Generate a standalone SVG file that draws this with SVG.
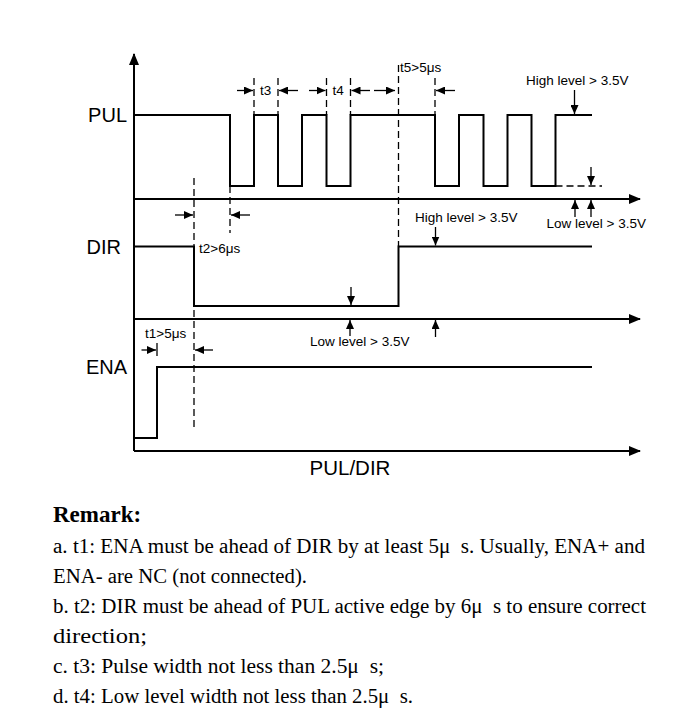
<svg xmlns="http://www.w3.org/2000/svg" width="692" height="723" viewBox="0 0 692 723">
<style>
.sig{fill:none;stroke:#000;stroke-width:2;stroke-linejoin:miter}
.ax{fill:none;stroke:#000;stroke-width:2}
.dash{fill:none;stroke:#000;stroke-width:1.3;stroke-dasharray:7,4}
.ar{fill:none;stroke:#000;stroke-width:1.3}
.lbl{font-family:"Liberation Sans",Arial,sans-serif;font-size:20px;fill:#000}
.sm{font-family:"Liberation Sans",Arial,sans-serif;font-size:13.5px;fill:#000}
.rm{font-family:"Liberation Serif","Times New Roman",serif;font-size:20px;fill:#000}
.rmb{font-family:"Liberation Serif","Times New Roman",serif;font-size:23px;font-weight:bold;fill:#000}
</style>
<defs>
<marker id="ah" markerUnits="userSpaceOnUse" markerWidth="9" markerHeight="8" refX="9" refY="4" orient="auto">
<path d="M0,0 L9,4 L0,8 z" fill="#000"/>
</marker>
<marker id="axh" markerUnits="userSpaceOnUse" markerWidth="12" markerHeight="10" refX="11" refY="5" orient="auto">
<path d="M0,0 L12,5 L0,10 z" fill="#000"/>
</marker>
</defs>
<rect width="692" height="723" fill="#fff"/>

<g id="axes">
<path class="ax" d="M134,451 V54" marker-end="url(#axh)"/>
<path class="ax" d="M134,199 H640" marker-end="url(#axh)"/>
<path class="ax" d="M134,319 H640" marker-end="url(#axh)"/>
<path class="ax" d="M134,451 H640" marker-end="url(#axh)"/>
</g>

<g id="PUL">
<text class="lbl" x="127" y="122" text-anchor="end">PUL</text>
<path class="sig" d="M134,115 H230 V186 H254 V115 H278 V186 H302 V115 H326.5 V186 H350.5 V115 H435 V186 H459 V115 H483.5 V186 H507.5 V115 H531.5 V186 H555.5 V115 H592"/>
<path class="dash" d="M555.5,186 H602"/>
</g>

<g id="DIR">
<text class="lbl" x="121" y="253.5" text-anchor="end">DIR</text>
<path class="sig" d="M134,246.5 H194 V306 H398.5 V246.5 H592"/>
</g>

<g id="ENA">
<text class="lbl" x="127" y="374" text-anchor="end">ENA</text>
<path class="sig" d="M134,438 H157 V367 H592"/>
</g>

<g id="axis-label">
<text class="lbl" x="350" y="475" text-anchor="middle" style="font-size:20.5px">PUL/DIR</text>
</g>

<g id="guides">
<path class="dash" d="M194,178 V427"/>
<path class="dash" d="M230,186 V233"/>
<path class="dash" d="M254,78 V115 M278,78 V115 M326.5,78 V115 M350.5,78 V115 M435,78 V115"/>
<path class="dash" d="M398.5,65 V246"/>
<path class="ar" d="M157,343 V356"/>
</g>

<g id="connectors">
<path class="ar" d="M237,90.5 H253" marker-end="url(#ah)"/>
<path class="ar" d="M298,90.5 H279" marker-end="url(#ah)"/>
<path class="ar" d="M309,90.5 H325.5" marker-end="url(#ah)"/>
<path class="ar" d="M370,90.5 H351.5" marker-end="url(#ah)"/>
<path class="ar" d="M374,90.5 H395" marker-end="url(#ah)"/>
<path class="ar" d="M455,90.5 H436" marker-end="url(#ah)"/>
<path class="ar" d="M574.5,90 V114" marker-end="url(#ah)"/>
<path class="ar" d="M591,167 V185" marker-end="url(#ah)"/>
<path class="ar" d="M575,217 V200" marker-end="url(#ah)"/>
<path class="ar" d="M591,217 V200" marker-end="url(#ah)"/>
<path class="ar" d="M175,215 H193" marker-end="url(#ah)"/>
<path class="ar" d="M250,215 H231" marker-end="url(#ah)"/>
<path class="ar" d="M435.5,227 V245.5" marker-end="url(#ah)"/>
<path class="ar" d="M351,287 V305" marker-end="url(#ah)"/>
<path class="ar" d="M350,336 V320" marker-end="url(#ah)"/>
<path class="ar" d="M435.5,337 V320" marker-end="url(#ah)"/>
<path class="ar" d="M141.5,350 H156" marker-end="url(#ah)"/>
<path class="ar" d="M213,350 H195" marker-end="url(#ah)"/>
</g>

<g id="timing-labels">
<text class="sm" x="260" y="95">t3</text>
<text class="sm" x="332.5" y="95">t4</text>
<text class="sm" x="400" y="72">t5&gt;5μs</text>
<text class="sm" x="526" y="85">High level &gt; 3.5V</text>
<text class="sm" x="415" y="222">High level &gt; 3.5V</text>
<text class="sm" x="546.5" y="228">Low level &gt; 3.5V</text>
<text class="sm" x="199" y="253">t2&gt;6μs</text>
<text class="sm" x="145" y="338">t1&gt;5μs</text>
<text class="sm" x="310" y="346">Low level &gt; 3.5V</text>
</g>

<g id="remark">
<text class="rmb" x="53" y="522">Remark:</text>
<text class="rm" x="53" y="553" textLength="592" lengthAdjust="spacingAndGlyphs">a. t1: ENA must be ahead of DIR by at least 5μ&#160; s. Usually, ENA+ and</text>
<text class="rm" x="53" y="583" textLength="254" lengthAdjust="spacingAndGlyphs">ENA- are NC (not connected).</text>
<text class="rm" x="53" y="613" textLength="593" lengthAdjust="spacingAndGlyphs">b. t2: DIR must be ahead of PUL active edge by 6μ&#160; s to ensure correct</text>
<text class="rm" x="53" y="643" textLength="94" lengthAdjust="spacingAndGlyphs">direction;</text>
<text class="rm" x="53" y="673" textLength="331" lengthAdjust="spacingAndGlyphs">c. t3: Pulse width not less than 2.5μ&#160; s;</text>
<text class="rm" x="53" y="703" textLength="360" lengthAdjust="spacingAndGlyphs">d. t4: Low level width not less than 2.5μ&#160; s.</text>
</g>
</svg>
